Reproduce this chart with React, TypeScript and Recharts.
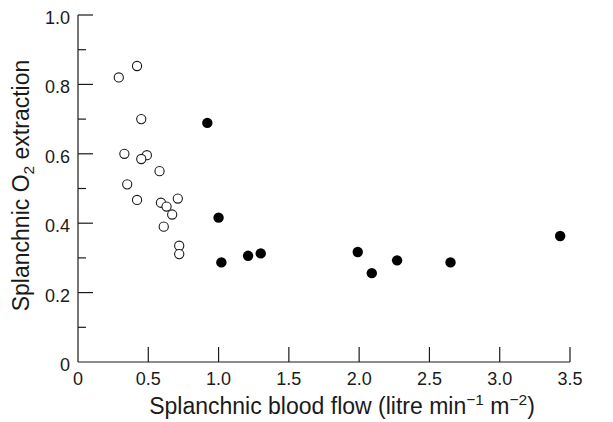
import React from 'react'
import { ScatterChart, Scatter, XAxis, YAxis, Label } from 'recharts'

// open circles
const openFlow = [0.29, 0.42, 0.45, 0.33, 0.49, 0.45, 0.58, 0.35, 0.42, 0.59, 0.63, 0.67, 0.71, 0.61, 0.72, 0.72]
const openExtraction = [0.82, 0.853, 0.70, 0.60, 0.596, 0.585, 0.55, 0.512, 0.467, 0.459, 0.448, 0.425, 0.471, 0.39, 0.335, 0.311]

// filled circles
const filledFlow = [0.92, 1.0, 1.02, 1.21, 1.3, 1.99, 2.09, 2.27, 2.65, 3.43]
const filledExtraction = [0.689, 0.416, 0.287, 0.306, 0.313, 0.317, 0.256, 0.293, 0.287, 0.363]

const xTicks = [0, 0.5, 1.0, 1.5, 2.0, 2.5, 3.0, 3.5]
const yTicks = [0, 0.1, 0.2, 0.3, 0.4, 0.5, 0.6, 0.7, 0.8, 0.9, 1.0]

const openData = openFlow.map((x, i) => ({ x, y: openExtraction[i] }))
const filledData = filledFlow.map((x, i) => ({ x, y: filledExtraction[i] }))

const FONT = '"Liberation Sans", Arial, sans-serif'
const INK = '#1a1a1a'

const fmt = (v: number) => (v === 0 ? '0' : v.toFixed(1))

const YTick = ({ x, y, payload }: any) => {
  const v = payload.value
  const major = Math.round(v * 10) % 2 === 0
  return (
    <g>
      {v > 0 && <line x1={x} x2={x + (major ? 15 : 8)} y1={y} y2={y} stroke={INK} strokeWidth={1.2} />}
      {major && (
        <text x={x - 8} y={y + 9} textAnchor="end" fontSize={18} fontFamily={FONT} fill={INK}>
          {fmt(v)}
        </text>
      )}
    </g>
  )
}

const XTick = ({ x, y, payload }: any) => {
  const v = payload.value
  return (
    <g>
      {v > 0 && <line x1={x} x2={x} y1={y} y2={y - 15} stroke={INK} strokeWidth={1.2} />}
      <text x={x} y={y + 23} textAnchor="middle" fontSize={18} fontFamily={FONT} fill={INK}>
        {fmt(v)}
      </text>
    </g>
  )
}

const XTitle = ({ viewBox }: any) => {
  const cx = viewBox.x + viewBox.width / 2 + 18
  return (
    <text x={cx} y={viewBox.y + 52} textAnchor="middle" fontSize={23} fontFamily={FONT} fill={INK}>
      Splanchnic blood flow (litre min
      <tspan dy={-9} fontSize={15.5}>−1</tspan>
      <tspan dy={9}> m</tspan>
      <tspan dy={-9} fontSize={15.5}>−2</tspan>
      <tspan dy={9}>)</tspan>
    </text>
  )
}

const YTitle = ({ viewBox }: any) => {
  const cx = 29
  const cy = viewBox.y + viewBox.height / 2 - 3
  return (
    <text
      x={cx}
      y={cy}
      transform={`rotate(-90 ${cx} ${cy})`}
      textAnchor="middle"
      fontSize={23}
      fontFamily={FONT}
      fill={INK}
    >
      Splanchnic O
      <tspan dy={5} fontSize={15.5}>2</tspan>
      <tspan dy={-5}> extraction</tspan>
    </text>
  )
}

const OpenDot = ({ cx, cy }: any) => (
  <circle cx={cx} cy={cy} r={4.6} fill="#fff" stroke={INK} strokeWidth={1.1} />
)

const FilledDot = ({ cx, cy }: any) => <circle cx={cx} cy={cy} r={5.2} fill="#000" />

export default function App() {
  return (
    <div style={{ position: 'absolute', left: 0, top: 0, background: '#fff' }}>
      <ScatterChart width={613} height={422} margin={{ top: 15, right: 43, bottom: 0, left: 0 }}>
        <XAxis
          type="number"
          dataKey="x"
          domain={[0, 3.5]}
          ticks={xTicks}
          interval={0}
          height={60}
          tickSize={0}
          tickMargin={0}
          tickLine={false}
          tick={<XTick />}
          axisLine={{ stroke: INK, strokeWidth: 1.2 }}
          allowDataOverflow
        >
          <Label content={XTitle} />
        </XAxis>
        <YAxis
          type="number"
          dataKey="y"
          domain={[0, 1]}
          ticks={yTicks}
          interval={0}
          width={78}
          tickSize={0}
          tickMargin={0}
          tickLine={false}
          tick={<YTick />}
          axisLine={{ stroke: INK, strokeWidth: 1.2 }}
          allowDataOverflow
        >
          <Label content={YTitle} />
        </YAxis>
        <Scatter data={openData} shape={<OpenDot />} isAnimationActive={false} />
        <Scatter data={filledData} shape={<FilledDot />} isAnimationActive={false} />
      </ScatterChart>
    </div>
  )
}
